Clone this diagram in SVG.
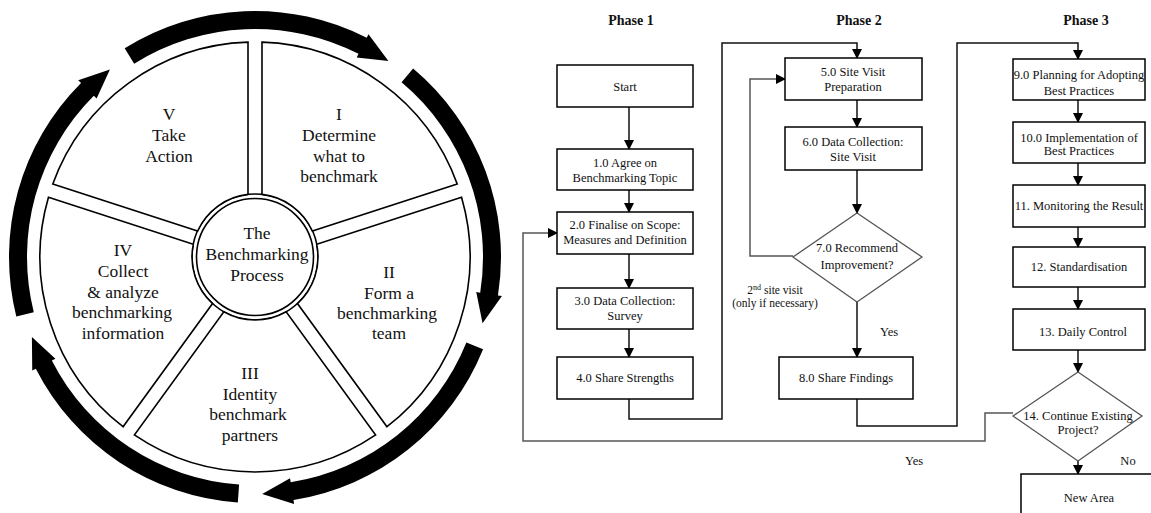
<svg xmlns="http://www.w3.org/2000/svg" width="1151" height="513" viewBox="0 0 1151 513">
<style>
.bg{fill:#fff}
.seg{fill:#fff;stroke:#000;stroke-width:1.6}
.ring{fill:#fff;stroke:#000;stroke-width:1.6}
.arw{fill:#000;stroke:none}
.wt{font-family:"Liberation Serif","Times New Roman",serif;font-size:17.5px;fill:#111;text-anchor:middle}
.ph{font-family:"Liberation Serif","Times New Roman",serif;font-size:14px;font-weight:bold;fill:#111;text-anchor:middle}
.ft{font-family:"Liberation Serif","Times New Roman",serif;font-size:12.5px;fill:#111;text-anchor:middle}
.lbl{font-family:"Liberation Serif","Times New Roman",serif;font-size:12.5px;fill:#111;text-anchor:middle}
.small{font-family:"Liberation Serif","Times New Roman",serif;font-size:11.5px;fill:#111;text-anchor:middle}
.box{fill:#fff;stroke:#000;stroke-width:1.5}
.dia{fill:#fff;stroke:#555;stroke-width:1.3}
.con{fill:none;stroke:#111;stroke-width:1.5}
.gcon{fill:none;stroke:#555;stroke-width:1.5}
</style>
<defs>
<marker id="ah" markerWidth="10" markerHeight="10" refX="9" refY="5" orient="auto" markerUnits="userSpaceOnUse">
<path d="M0,0 L10,5 L0,10 Z" fill="#000"/>
</marker>
<path id="segshape" d="M -120.65,-177.96 A 215 215 0 0 1 120.65,-177.96 L 31.14,-54.77 A 63 63 0 0 0 -31.14,-54.77 Z"/>
<path id="arrowshape" d="M -133.97,-206.32 A 246 246 0 0 1 107.85,-221.10 L 109.60,-224.70 L 130.0,-198.2 L 98.20,-201.33 L 99.96,-204.93 A 228 228 0 0 0 -124.17,-191.22 Z"/>
</defs>
<rect class="bg" x="0" y="0" width="1151" height="513"/>

<g id="wheel-arrows">
<use href="#arrowshape" class="arw" transform="translate(255,257) rotate(1)"/>
<use href="#arrowshape" class="arw" transform="translate(255,257) rotate(73)"/>
<use href="#arrowshape" class="arw" transform="translate(255,257) rotate(145)"/>
<use href="#arrowshape" class="arw" transform="translate(255,257) rotate(217)"/>
<use href="#arrowshape" class="arw" transform="translate(255,257) rotate(289)"/>
</g>

<g id="center">
<circle class="ring" cx="255" cy="257" r="63"/>
<circle class="ring" cx="255" cy="257" r="58.5"/>
<text class="wt" x="257" y="239">The</text>
<text class="wt" x="257" y="260">Benchmarking</text>
<text class="wt" x="257" y="281">Process</text>
</g>
<g id="seg-I">
<use href="#segshape" class="seg" transform="translate(255,257) rotate(36)"/>
<text class="wt" x="339" y="120">I</text>
<text class="wt" x="339" y="141">Determine</text>
<text class="wt" x="339" y="162">what to</text>
<text class="wt" x="339" y="182">benchmark</text>
</g>
<g id="seg-II">
<use href="#segshape" class="seg" transform="translate(255,257) rotate(108)"/>
<text class="wt" x="389" y="278">II</text>
<text class="wt" x="389" y="299">Form a</text>
<text class="wt" x="387" y="319">benchmarking</text>
<text class="wt" x="389" y="339">team</text>
</g>
<g id="seg-III">
<use href="#segshape" class="seg" transform="translate(255,257) rotate(180)"/>
<text class="wt" x="250" y="379">III</text>
<text class="wt" x="250" y="400">Identity</text>
<text class="wt" x="248" y="420">benchmark</text>
<text class="wt" x="250" y="441">partners</text>
</g>
<g id="seg-IV">
<use href="#segshape" class="seg" transform="translate(255,257) rotate(252)"/>
<text class="wt" x="123" y="256">IV</text>
<text class="wt" x="123" y="277">Collect</text>
<text class="wt" x="123" y="298">&amp; analyze</text>
<text class="wt" x="122" y="318">benchmarking</text>
<text class="wt" x="123" y="339">information</text>
</g>
<g id="seg-V">
<use href="#segshape" class="seg" transform="translate(255,257) rotate(-36)"/>
<text class="wt" x="169" y="120">V</text>
<text class="wt" x="169" y="141">Take</text>
<text class="wt" x="169" y="162">Action</text>
</g>

<g id="phase-labels">
<text class="ph" x="631" y="25">Phase 1</text>
<text class="ph" x="859" y="25">Phase 2</text>
<text class="ph" x="1086" y="25">Phase 3</text>
</g>

<g id="connectors">
<line class="con" x1="629" y1="107" x2="629" y2="149" marker-end="url(#ah)"/>
<line class="con" x1="629" y1="190" x2="629" y2="212" marker-end="url(#ah)"/>
<line class="con" x1="629" y1="254" x2="629" y2="288" marker-end="url(#ah)"/>
<line class="con" x1="629" y1="329" x2="629" y2="357" marker-end="url(#ah)"/>
<polyline class="con" points="629,399 629,419 722,419 722,43 857,43 857,58" marker-end="url(#ah)"/>
<line class="con" x1="857" y1="100" x2="857" y2="127" marker-end="url(#ah)"/>
<line class="con" x1="857" y1="170" x2="857" y2="213" marker-end="url(#ah)"/>
<polyline class="gcon" points="793,256 750,256 750,79 785,79" marker-end="url(#ah)"/>
<line class="con" x1="857" y1="302" x2="857" y2="357" marker-end="url(#ah)"/>
<polyline class="con" points="857,399 857,426 957,426 957,43 1078,43 1078,59" marker-end="url(#ah)"/>
<line class="con" x1="1078" y1="100" x2="1078" y2="122" marker-end="url(#ah)"/>
<line class="con" x1="1078" y1="163" x2="1078" y2="185" marker-end="url(#ah)"/>
<line class="con" x1="1078" y1="227" x2="1078" y2="247" marker-end="url(#ah)"/>
<line class="con" x1="1078" y1="287" x2="1078" y2="309" marker-end="url(#ah)"/>
<line class="con" x1="1078" y1="350" x2="1078" y2="372" marker-end="url(#ah)"/>
<line class="con" x1="1078" y1="461" x2="1078" y2="474" marker-end="url(#ah)"/>
<polyline class="gcon" points="1013,413 985,413 985,441 523,441 523,233 557,233" marker-end="url(#ah)"/>
<text class="small" x="775" y="294">2<tspan font-size="8" dy="-4">nd</tspan><tspan dy="4"> site visit</tspan></text>
<text class="small" x="775" y="307">(only if necessary)</text>
<text class="lbl" x="889" y="336">Yes</text>
<text class="lbl" x="914" y="465">Yes</text>
<text class="lbl" x="1128" y="465">No</text>
</g>

<g id="n-start"><rect class="box" x="557" y="65" width="136" height="42"/><text class="ft" x="625" y="91">Start</text></g>
<g id="n-1"><rect class="box" x="557" y="149" width="136" height="41"/><text class="ft" x="625" y="167">1.0 Agree on</text><text class="ft" x="625" y="182">Benchmarking Topic</text></g>
<g id="n-2"><rect class="box" x="557" y="212" width="136" height="42"/><text class="ft" x="625" y="229">2.0 Finalise on Scope:</text><text class="ft" x="625" y="244">Measures and Definition</text></g>
<g id="n-3"><rect class="box" x="557" y="288" width="136" height="41"/><text class="ft" x="625" y="305">3.0 Data Collection:</text><text class="ft" x="625" y="320">Survey</text></g>
<g id="n-4"><rect class="box" x="557" y="357" width="136" height="42"/><text class="ft" x="625" y="382">4.0 Share Strengths</text></g>
<g id="n-5"><rect class="box" x="785" y="58" width="137" height="42"/><text class="ft" x="853" y="76">5.0 Site Visit</text><text class="ft" x="853" y="91">Preparation</text></g>
<g id="n-6"><rect class="box" x="785" y="127" width="137" height="43"/><text class="ft" x="853" y="146">6.0 Data Collection:</text><text class="ft" x="853" y="161">Site Visit</text></g>
<g id="n-7"><polygon class="dia" points="857,213 922,257 857,302 793,257"/><text class="ft" x="857" y="252">7.0 Recommend</text><text class="ft" x="857" y="269">Improvement?</text></g>
<g id="n-8"><rect class="box" x="779" y="357" width="134" height="42"/><text class="ft" x="846" y="382">8.0 Share Findings</text></g>
<g id="n-9"><rect class="box" x="1013" y="59" width="132" height="41"/><text class="ft" x="1079" y="79">9.0 Planning for Adopting</text><text class="ft" x="1079" y="95">Best Practices</text></g>
<g id="n-10"><rect class="box" x="1013" y="122" width="132" height="41"/><text class="ft" x="1079" y="142">10.0 Implementation of</text><text class="ft" x="1079" y="155">Best Practices</text></g>
<g id="n-11"><rect class="box" x="1013" y="185" width="132" height="42"/><text class="ft" x="1079" y="210">11. Monitoring the Result</text></g>
<g id="n-12"><rect class="box" x="1013" y="247" width="132" height="40"/><text class="ft" x="1079" y="271">12. Standardisation</text></g>
<g id="n-13"><rect class="box" x="1013" y="309" width="132" height="41"/><text class="ft" x="1083" y="336">13. Daily Control</text></g>
<g id="n-14"><polygon class="dia" points="1078,372 1142,416 1078,461 1013,416"/><text class="ft" x="1078" y="420">14. Continue Existing</text><text class="ft" x="1078" y="434">Project?</text></g>
<g id="n-new"><rect class="box" x="1021" y="474" width="136" height="50"/><text class="ft" x="1089" y="502">New Area</text></g>
</svg>
